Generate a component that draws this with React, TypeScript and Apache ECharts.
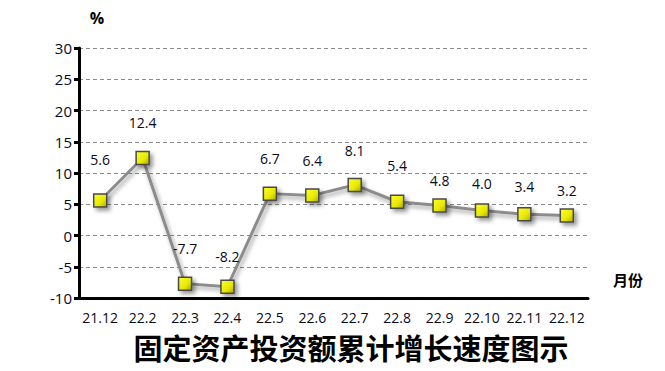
import React, { useEffect, useRef } from "react";
import * as echarts from "echarts";

const categories = ["21.12", "22.2", "22.3", "22.4", "22.5", "22.6", "22.7", "22.8", "22.9", "22.10", "22.11", "22.12"];
const growth = [5.6, 12.4, -7.7, -8.2, 6.7, 6.4, 8.1, 5.4, 4.8, 4.0, 3.4, 3.2];
const labelLift = [27, 21, 21, 16, 21, 21, 20, 22, 11, 13, 14, 11];
const titleText = "固定资产投资额累计增长速度图示";
const yUnit = "%";
const xUnit = "月份";

export default function App() {
  const ref = useRef<HTMLDivElement>(null);
  useEffect(() => {
    const chart = echarts.init(ref.current!, undefined, { renderer: "svg" });
    const font = "'Open Sans', 'DejaVu Sans', sans-serif";
    chart.setOption({
      animation: false,
      backgroundColor: "#ffffff",
      grid: { left: 79, right: 77, top: 48, bottom: 73, containLabel: false },
      title: {
        text: titleText,
        left: 346,
        top: 327,
        textAlign: "center",
        textStyle: { fontFamily: "'Noto Sans CJK SC', sans-serif", fontSize: 29, fontWeight: "bold", color: "#000" },
      },
      graphic: [
        { type: "text", x: 97, y: 18, style: { text: yUnit, font: "bold 16px 'Open Sans', sans-serif", fill: "#000", textAlign: "center", textVerticalAlign: "middle" } },
        { type: "text", x: 628, y: 279, style: { text: xUnit, font: "bold 15px 'Noto Sans CJK SC', sans-serif", fill: "#000", textAlign: "center", textVerticalAlign: "middle" } },
      ],
      xAxis: {
        type: "category",
        data: categories,
        boundaryGap: true,
        axisLine: { onZero: false, lineStyle: { color: "#000", width: 3 } },
        axisTick: { show: false },
        axisLabel: { fontFamily: font, fontSize: 14, color: "#0a0a1a", margin: 12, interval: 0 },
        splitLine: { show: false },
      },
      yAxis: {
        type: "value",
        min: -10,
        max: 30,
        interval: 5,
        axisLine: { show: true, lineStyle: { color: "#000", width: 3 } },
        axisTick: { show: true, length: 5, lineStyle: { color: "#000", width: 3 } },
        axisLabel: { fontFamily: font, fontSize: 15, color: "#0a0a1a", margin: 7 },
        splitLine: { show: true, lineStyle: { color: "#8a8a8a", type: [4, 3], width: 1 } },
      },
      series: [
        {
          type: "line",
          data: growth.map((v, i) => ({
            value: v,
            label: { distance: labelLift[i] },
          })),
          symbol: "rect",
          symbolSize: 13,
          lineStyle: { color: "#8c8c8c", width: 3, shadowColor: "rgba(0,0,0,0.35)", shadowBlur: 4, shadowOffsetX: 2, shadowOffsetY: 3 },
          itemStyle: {
            color: new echarts.graphic.LinearGradient(0, 0, 1, 1, [
              { offset: 0, color: "#ffff30" },
              { offset: 0.6, color: "#e8e800" },
              { offset: 1, color: "#a8a800" },
            ]),
            borderColor: "#4a4a4a",
            borderWidth: 1.5,
            shadowColor: "rgba(0,0,0,0.4)",
            shadowBlur: 4,
            shadowOffsetX: 3,
            shadowOffsetY: 3,
          },
          label: {
            show: true,
            position: "top",
            fontFamily: font,
            fontSize: 14,
            color: "#0a0a1a",
            formatter: (p: any) => Number(p.value).toFixed(1),
          },
          z: 3,
        },
      ],
    });
    return () => chart.dispose();
  }, []);
  return <div ref={ref} style={{ width: 665, height: 371, position: "absolute", left: 0, top: 0 }} />;
}
